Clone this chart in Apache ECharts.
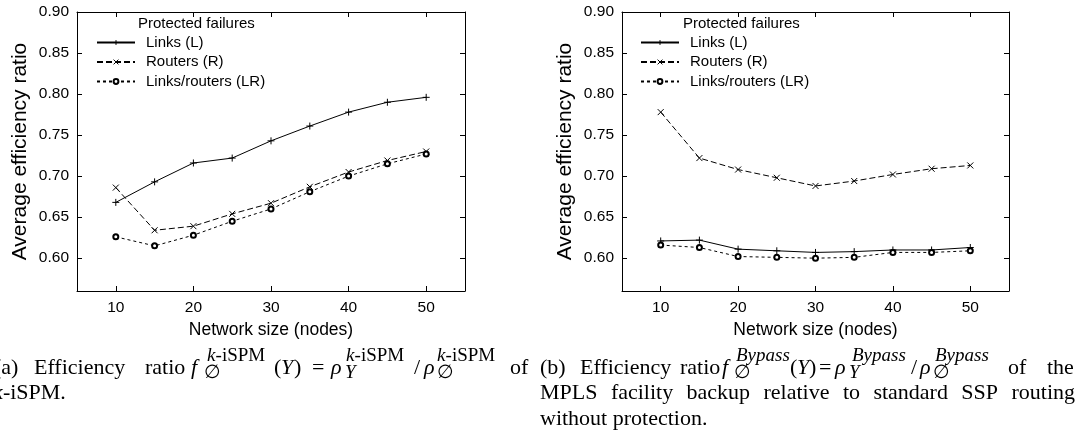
<!DOCTYPE html>
<html>
<head>
<meta charset="utf-8">
<script src="https://cdn.jsdelivr.net/npm/echarts@6/dist/echarts.min.js"></script>
<style>
html,body{margin:0;padding:0;background:#fff;}
#charts{width:1084px;height:441px;}
</style>
</head>
<body>
<div id="charts"></div>
<script>
// network sizes (x) and ratios
var sizes = [10, 15, 20, 25, 30, 35, 40, 45, 50];
var kLinks   = [0.668, 0.693, 0.716, 0.722, 0.743, 0.761, 0.778, 0.790, 0.796];
var kRouters = [0.686, 0.634, 0.639, 0.654, 0.667, 0.687, 0.705, 0.719, 0.730];
var kBoth    = [0.626, 0.615, 0.628, 0.645, 0.660, 0.681, 0.700, 0.715, 0.727];
var bLinks   = [0.621, 0.622, 0.611, 0.609, 0.607, 0.608, 0.610, 0.610, 0.613];
var bRouters = [0.778, 0.722, 0.708, 0.698, 0.688, 0.694, 0.702, 0.709, 0.713];
var bBoth    = [0.616, 0.613, 0.602, 0.601, 0.600, 0.601, 0.607, 0.607, 0.609];
var xTicks = [10, 20, 30, 40, 50];
var yTicks = [0.60, 0.65, 0.70, 0.75, 0.80, 0.85, 0.90];
var names = ['Links (L)', 'Routers (R)', 'Links/routers (LR)'];

var SANS = 'Liberation Sans';
var SERIF = 'Liberation Serif';
var PLUS = 'path://M0,4L8,4M4,0L4,8';
var CROSS = 'path://M0,0L8,8M8,0L0,8';

function pairs(ys){
	var out = [];
	for(var i=0;i<sizes.length;i++){
		out.push([sizes[i], ys[i]]);
	}
	return out;
}

function xAxisFor(g, pos){
	return {
		type: 'value', gridIndex: g, position: pos, min: 5, max: 55,
		axisLine: {show: true, onZero: false, lineStyle: {color: '#000', width: 1}},
		axisTick: {show: true, inside: true, length: 5, customValues: xTicks, lineStyle: {color: '#000'}},
		axisLabel: {show: pos == 'bottom', customValues: xTicks, margin: 9, color: '#000', fontSize: 15.5, fontFamily: SANS},
		splitLine: {show: false},
		name: pos == 'bottom' ? 'Network size (nodes)' : '',
		nameLocation: 'middle', nameGap: 27,
		nameTextStyle: {color: '#000', fontSize: 17.5, fontFamily: SANS}
	};
}

function yAxisFor(g, pos){
	return {
		type: 'value', gridIndex: g, position: pos, min: 0.56, max: 0.90,
		axisLine: {show: true, onZero: false, lineStyle: {color: '#000', width: 1}},
		axisTick: {show: true, inside: true, length: 5, customValues: yTicks, lineStyle: {color: '#000'}},
		axisLabel: {show: pos == 'left', customValues: yTicks, margin: 8, color: '#000', fontSize: 15.5, fontFamily: SANS,
			formatter: function(v){ return v.toFixed(2); }},
		splitLine: {show: false},
		name: pos == 'left' ? 'Average efficiency ratio' : '',
		nameLocation: 'middle', nameGap: 46, nameRotate: 90,
		nameTextStyle: {color: '#000', fontSize: 21, fontFamily: SANS}
	};
}

function line(name, ys, g, dash, symbol, size){
	return {
		name: name, type: 'line', xAxisIndex: g*2, yAxisIndex: g*2,
		data: pairs(ys), symbol: symbol, symbolSize: size, symbolKeepAspect: true,
		lineStyle: {color: '#000', width: 1, type: dash},
		itemStyle: {color: '#000', borderColor: '#000', borderWidth: 1},
		emphasis: {disabled: true}
	};
}

function legendFor(left){
	return {
		orient: 'vertical', left: left, top: 35, padding: 0, itemWidth: 38, itemHeight: 6, itemGap: 4.5,
		data: names, selectedMode: false,
		itemStyle: {borderWidth: 1},
		textStyle: {color: '#000', fontSize: 15, fontFamily: SANS, padding: [0, 0, 0, 6]}
	};
}

// ---- captions (plain text pieces) ----
var M = 22, S = 19, r1 = 368, r2 = 393, r3 = 419, up = -12, dn = 5;
function txt(x, y, s, size, italic){
	return {type: 'text', x: x, y: y, silent: true,
		style: {text: s, fontSize: size, fontFamily: SERIF, fontStyle: italic ? 'italic' : 'normal',
			fill: '#000', verticalAlign: 'middle', align: 'left'}};
}
function kspm(x, y, size, tail){
	return [txt(x, y, 'k', size, true), txt(x + size*0.45, y, '-iSPM' + (tail || ''), size, false)];
}
var measureCtx = document.createElement('canvas').getContext('2d');
function justify(words, x0, x1, y, size){
	measureCtx.font = size + 'px "' + SERIF + '"';
	var w = [], sum = 0;
	for(var i=0;i<words.length;i++){
		w.push(measureCtx.measureText(words[i]).width);
		sum += w[i];
	}
	var gap = (x1 - x0 - sum) / (words.length - 1);
	var out = [], x = x0;
	for(var i=0;i<words.length;i++){
		out.push(txt(x, y, words[i], size));
		x += w[i] + gap;
	}
	return out;
}

var caption = [].concat(
	[txt(-6, r1, '(a)', M), txt(34, r1, 'Efficiency', M), txt(145, r1, 'ratio', M),
	 txt(191, r1, 'f', M, true), txt(204, r1 + dn, '\u2205', S)],
	kspm(207, r1 + up, S),
	[txt(274, r1, '(', M), txt(281, r1, 'Y', M, true), txt(294, r1, ')', M),
	 txt(312, r1, '=', M), txt(331, r1, '\u03c1', M, true), txt(345, r1 + dn, 'Y', S, true)],
	kspm(346, r1 + up, S),
	[txt(414, r1, '/', M), txt(424, r1, '\u03c1', M, true), txt(437, r1 + dn, '\u2205', S)],
	kspm(437, r1 + up, S),
	[txt(510, r1, 'of', M)],
	kspm(-7, r2, M, '.'),
	[txt(540, r1, '(b)', M), txt(580, r1, 'Efficiency', M), txt(680, r1, 'ratio', M),
	 txt(722, r1, 'f', M, true), txt(734, r1 + dn, '\u2205', S), txt(736, r1 + up, 'Bypass', S, true),
	 txt(790, r1, '(', M), txt(797, r1, 'Y', M, true), txt(809, r1, ')', M),
	 txt(819, r1, '=', M), txt(835, r1, '\u03c1', M, true), txt(849, r1 + dn, 'Y', S, true), txt(852, r1 + up, 'Bypass', S, true),
	 txt(911, r1, '/', M), txt(920, r1, '\u03c1', M, true), txt(933, r1 + dn, '\u2205', S), txt(935, r1 + up, 'Bypass', S, true),
	 txt(1008, r1, 'of', M), txt(1047, r1, 'the', M)],
	justify(['MPLS', 'facility', 'backup', 'relative', 'to', 'standard', 'SSP', 'routing'], 540, 1075, r2, M),
	[txt(540, r3, 'without protection.', M)]
);

var charts = echarts.init(document.getElementById('charts'));
var option = {
	animation: false,
	backgroundColor: '#fff',
	title: [
		{text: 'Protected failures', left: 138, top: 16, padding: 0, textStyle: {color: '#000', fontSize: 15, fontWeight: 'normal', fontFamily: SANS}},
		{text: 'Protected failures', left: 683, top: 16, padding: 0, textStyle: {color: '#000', fontSize: 15, fontWeight: 'normal', fontFamily: SANS}}
	],
	legend: [legendFor(96), legendFor(640)],
	grid: [
		{left: 77, right: 619, top: 12, bottom: 150},
		{left: 622, right: 75, top: 12, bottom: 150}
	],
	xAxis: [xAxisFor(0, 'bottom'), xAxisFor(0, 'top'), xAxisFor(1, 'bottom'), xAxisFor(1, 'top')],
	yAxis: [yAxisFor(0, 'left'), yAxisFor(0, 'right'), yAxisFor(1, 'left'), yAxisFor(1, 'right')],
	series: [
		line(names[0], kLinks, 0, 'solid', PLUS, 7),
		line(names[1], kRouters, 0, [6, 3], CROSS, 6),
		line(names[2], kBoth, 0, [3, 3], 'emptyCircle', 5),
		line(names[0], bLinks, 1, 'solid', PLUS, 7),
		line(names[1], bRouters, 1, [6, 3], CROSS, 6),
		line(names[2], bBoth, 1, [3, 3], 'emptyCircle', 5)
	],
	graphic: caption
};
charts.setOption(option);
</script>
</body>
</html>
